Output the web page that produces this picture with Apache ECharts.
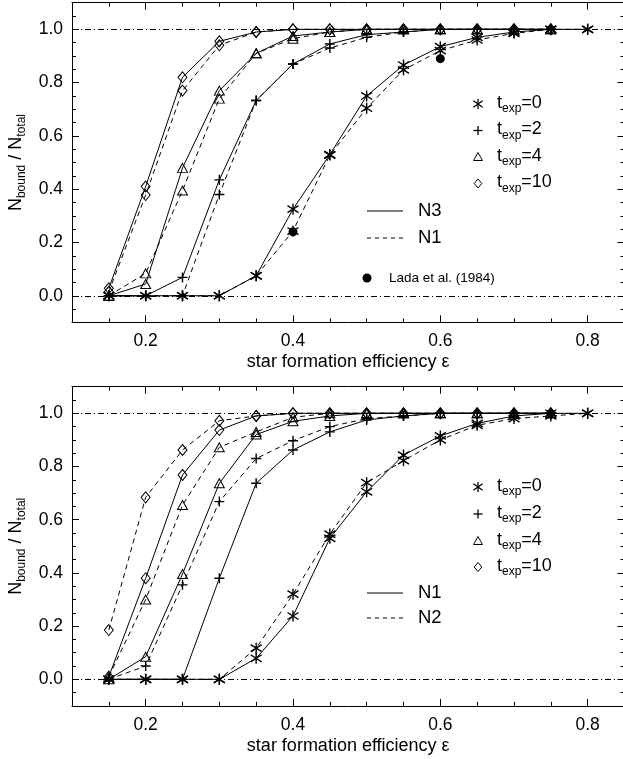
<!DOCTYPE html>
<html>
<head>
<meta charset="utf-8">
<script src="https://cdn.jsdelivr.net/npm/echarts@6/dist/echarts.min.js"></script>
<style>
  html, body { margin: 0; padding: 0; background: #fff; }
  #chart { width: 623px; height: 759px; }
</style>
</head>
<body>
<div id="chart"></div>
<script>
// Star formation efficiency sampled by the simulations
const eps = [0.15, 0.2, 0.25, 0.3, 0.35, 0.4, 0.45, 0.5, 0.55, 0.6, 0.65, 0.7, 0.75, 0.8];
const texpValues = ['0', '2', '4', '10'];

// Upper panel: N3 (solid) and N1 (dashed)
const upperN3_t0  = [0, 0, 0, 0, 0.075, 0.325, 0.53, 0.75, 0.866, 0.935, 0.97, 0.99, 1.0, 1.0];
const upperN3_t2  = [0, 0, 0.069, 0.435, 0.733, 0.87, 0.945, 0.98, 0.99, 1.0, 1.0, 1.0, 1.0];
const upperN3_t4  = [0, 0.044, 0.48, 0.77, 0.91, 0.975, 0.99, 1.0, 1.0, 1.0, 1.0, 1.0, 1.0];
const upperN3_t10 = [0.028, 0.41, 0.82, 0.955, 0.99, 1.0, 1.0, 1.0, 1.0, 1.0, 1.0, 1.0, 1.0];

const upperN1_t0  = [0, 0, 0, 0, 0.075, 0.243, 0.528, 0.704, 0.848, 0.92, 0.96, 0.985, 1.0, 1.0];
const upperN1_t2  = [0, 0, 0, 0.38, 0.733, 0.87, 0.93, 0.97, 0.99, 1.0, 1.0, 1.0, 1.0];
const upperN1_t4  = [0, 0.084, 0.395, 0.74, 0.91, 0.965, 0.99, 1.0, 1.0, 1.0, 1.0, 1.0, 1.0];
const upperN1_t10 = [0.015, 0.378, 0.77, 0.94, 0.99, 1.0, 1.0, 1.0, 1.0, 1.0, 1.0, 1.0, 1.0];

// Observational comparison (Lada et al. 1984)
const ladaEps   = [0.4, 0.6];
const ladaBound = [0.24, 0.89];

// Lower panel: N1 (solid) and N2 (dashed)
const lowerN1_t0  = [0, 0, 0, 0, 0.079, 0.238, 0.53, 0.705, 0.843, 0.915, 0.962, 0.99, 1.0, 1.0];
const lowerN1_t2  = [0, 0, 0, 0.38, 0.737, 0.862, 0.93, 0.975, 0.99, 1.0, 1.0, 1.0, 1.0];
const lowerN1_t4  = [0, 0.085, 0.396, 0.737, 0.92, 0.97, 0.99, 1.0, 1.0, 1.0, 1.0, 1.0, 1.0];
const lowerN1_t10 = [0.01, 0.38, 0.768, 0.937, 0.99, 1.0, 1.0, 1.0, 1.0, 1.0, 1.0, 1.0, 1.0];

const lowerN2_t0  = [0, 0, 0, 0, 0.117, 0.32, 0.546, 0.739, 0.822, 0.9, 0.955, 0.98, 0.99, 1.0];
const lowerN2_t2  = [0, 0.05, 0.355, 0.668, 0.83, 0.897, 0.95, 0.98, 0.99, 1.0, 1.0, 1.0, 1.0];
const lowerN2_t4  = [0.01, 0.30, 0.655, 0.872, 0.93, 0.985, 1.0, 1.0, 1.0, 1.0, 1.0, 1.0, 1.0];
const lowerN2_t10 = [0.185, 0.684, 0.862, 0.972, 0.99, 1.0, 1.0, 1.0, 1.0, 1.0, 1.0, 1.0, 1.0];

// Axis ticks and reference levels
const xMajorTicks = [0.2, 0.4, 0.6, 0.8];
const yMajorTicks = [0, 0.2, 0.4, 0.6, 0.8, 1.0];
const refLevels = [0, 1];

const FONT = '"Liberation Sans", Arial, Helvetica, sans-serif';
const INK = '#000';

const SYMBOLS = {
  star: 'path://M5,0L5,10M0.6,1.8L9.4,8.2M0.6,8.2L9.4,1.8',
  plus: 'path://M5,0L5,10M0,5L10,5',
  tri: 'triangle',
  dia: 'diamond'
};
const SYMBOL_SIZE = { star: 11, plus: 10, tri: [10, 9], dia: [9, 11] };
const symbolOrder = ['star', 'plus', 'tri', 'dia'];

function pairs(values) {
  return values.map((v, i) => [eps[i], v]);
}

function curve(values, symKey, dashed, g) {
  return {
    type: 'line',
    xAxisIndex: 4 * g,
    yAxisIndex: 4 * g,
    data: pairs(values),
    symbol: SYMBOLS[symKey],
    symbolSize: SYMBOL_SIZE[symKey],
    showSymbol: true,
    showAllSymbol: true,
    lineStyle: { color: INK, width: 1, type: dashed ? [5, 4] : 'solid' },
    itemStyle: { color: 'rgba(0,0,0,0)', borderColor: INK, borderWidth: (symKey === 'star' || symKey === 'plus') ? 1.4 : 1 },
    emphasis: { disabled: true },
    silent: true,
    z: dashed ? 2 : 3
  };
}

function refLines(g) {
  return {
    type: 'line',
    xAxisIndex: 4 * g,
    yAxisIndex: 4 * g,
    data: [],
    silent: true,
    markLine: {
      silent: true,
      symbol: 'none',
      label: { show: false },
      lineStyle: { color: INK, width: 1, type: [6, 3, 1, 3] },
      data: refLevels.map(v => ({ yAxis: v }))
    },
    z: 1
  };
}

function xLabel(v) {
  const r = Math.round(v * 20);
  return (r % 4 === 0 && r >= 4 && r <= 16) ? (r / 20).toFixed(1) : '';
}
function yLabel(v) {
  const r = Math.round(v * 20);
  return (r % 4 === 0 && r >= 0 && r <= 20) ? (r / 20).toFixed(1) : '';
}

const tickLine = { color: INK, width: 1 };

function xAxes(g) {
  const base = { type: 'value', gridIndex: g, min: 0.1, max: 0.85, splitLine: { show: false } };
  return [
    Object.assign({}, base, {
      position: 'bottom', interval: 0.05,
      axisLine: { onZero: false, lineStyle: { color: INK, width: 1 } },
      axisTick: { inside: true, length: 4, lineStyle: tickLine },
      axisLabel: { formatter: xLabel, margin: 10, color: INK, fontSize: 17.5, fontFamily: FONT },
      name: 'star formation efficiency ε', nameLocation: 'middle', nameGap: 31,
      nameTextStyle: { color: INK, fontSize: 18, fontFamily: FONT }
    }),
    Object.assign({}, base, {
      position: 'bottom',
      axisLine: { show: false, onZero: false },
      axisTick: { inside: true, length: 7, customValues: xMajorTicks, lineStyle: tickLine },
      axisLabel: { show: false }
    }),
    Object.assign({}, base, {
      position: 'top', interval: 0.05,
      axisLine: { onZero: false, lineStyle: { color: INK, width: 1 } },
      axisTick: { inside: true, length: 4, lineStyle: tickLine },
      axisLabel: { show: false }
    }),
    Object.assign({}, base, {
      position: 'top',
      axisLine: { show: false, onZero: false },
      axisTick: { inside: true, length: 7, customValues: xMajorTicks, lineStyle: tickLine },
      axisLabel: { show: false }
    })
  ];
}

function yAxes(g) {
  const base = { type: 'value', gridIndex: g, min: -0.1, max: 1.1, splitLine: { show: false } };
  return [
    Object.assign({}, base, {
      position: 'left', interval: 0.05,
      axisLine: { onZero: false, lineStyle: { color: INK, width: 1 } },
      axisTick: { inside: true, length: 4, lineStyle: tickLine },
      axisLabel: { formatter: yLabel, margin: 9, color: INK, fontSize: 17.5, fontFamily: FONT },
      name: '{m|N}{s|bound}{m| / N}{s|total}',
      nameLocation: 'middle', nameRotate: 90, nameGap: 38,
      nameTextStyle: {
        color: INK, fontSize: 18, fontFamily: FONT,
        rich: {
          m: { fontSize: 18, lineHeight: 24, fontFamily: FONT, color: INK },
          s: { fontSize: 12, height: 12, verticalAlign: 'bottom', fontFamily: FONT, color: INK }
        }
      }
    }),
    Object.assign({}, base, {
      position: 'left',
      axisLine: { show: false, onZero: false },
      axisTick: { inside: true, length: 7, customValues: yMajorTicks, lineStyle: tickLine },
      axisLabel: { show: false }
    }),
    Object.assign({}, base, {
      position: 'right', interval: 0.05,
      axisLine: { onZero: false, lineStyle: { color: INK, width: 1 } },
      axisTick: { inside: true, length: 4, lineStyle: tickLine },
      axisLabel: { show: false }
    }),
    Object.assign({}, base, {
      position: 'right',
      axisLine: { show: false, onZero: false },
      axisTick: { inside: true, length: 7, customValues: yMajorTicks, lineStyle: tickLine },
      axisLabel: { show: false }
    })
  ];
}

// ---- legend artwork (pixel layout of the key boxes) ----
const subRich = {
  m: { fontSize: 18, lineHeight: 24, fontFamily: FONT, fill: INK, color: INK },
  s: { fontSize: 12, height: 12, verticalAlign: 'bottom', fontFamily: FONT, fill: INK, color: INK }
};

function legendSymbol(kind, cx, cy) {
  const s = { stroke: INK, lineWidth: 1.3, fill: null };
  if (kind === 'star') {
    return { type: 'group', children: [
      { type: 'line', shape: { x1: cx, y1: cy - 5, x2: cx, y2: cy + 5 }, style: s },
      { type: 'line', shape: { x1: cx - 4.6, y1: cy - 3.3, x2: cx + 4.6, y2: cy + 3.3 }, style: s },
      { type: 'line', shape: { x1: cx - 4.6, y1: cy + 3.3, x2: cx + 4.6, y2: cy - 3.3 }, style: s }
    ] };
  }
  if (kind === 'plus') {
    return { type: 'group', children: [
      { type: 'line', shape: { x1: cx, y1: cy - 4.5, x2: cx, y2: cy + 4.5 }, style: s },
      { type: 'line', shape: { x1: cx - 4.5, y1: cy, x2: cx + 4.5, y2: cy }, style: s }
    ] };
  }
  if (kind === 'tri') {
    return { type: 'polygon', shape: { points: [[cx, cy - 4.5], [cx + 4.5, cy + 3.5], [cx - 4.5, cy + 3.5]] },
      style: { stroke: INK, lineWidth: 1, fill: null } };
  }
  return { type: 'polygon', shape: { points: [[cx, cy - 4.5], [cx + 3.8, cy], [cx, cy + 4.5], [cx - 3.8, cy]] },
    style: { stroke: INK, lineWidth: 1, fill: null } };
}

function legendText(x, y, text, rich, size) {
  return { type: 'text', style: {
    x: x, y: y, text: text, rich: rich, fill: INK,
    fontSize: size || 18, fontFamily: FONT, verticalAlign: 'middle', textVerticalAlign: 'middle', align: 'left'
  } };
}

function keyBlock(rowsY, lineRows, names) {
  const els = [];
  symbolOrder.forEach((k, i) => {
    els.push(legendSymbol(k, 478, rowsY[i]));
    els.push(legendText(497, rowsY[i] - 1, '{m|t}{s|exp}{m|=' + texpValues[i] + '}', subRich));
  });
  lineRows.forEach((y, i) => {
    els.push({ type: 'line', shape: { x1: 367, y1: y, x2: 403, y2: y },
      style: { stroke: INK, lineWidth: 1, lineDash: i === 0 ? null : [4, 4] } });
    els.push(legendText(418, y, names[i], null, 18.5));
  });
  return els;
}

const graphics = []
  .concat(keyBlock([104, 130.5, 157, 183.5], [211, 238], ['N3', 'N1']))
  .concat([
    { type: 'circle', shape: { cx: 367, cy: 278, r: 4.5 }, style: { fill: INK } },
    legendText(389, 278, 'Lada et al. (1984)', null, 13.5)
  ])
  .concat(keyBlock([487, 514, 541, 567], [593, 618], ['N1', 'N2']));

const series = [
  refLines(0),
  curve(upperN1_t0, 'star', true, 0),
  curve(upperN1_t2, 'plus', true, 0),
  curve(upperN1_t4, 'tri', true, 0),
  curve(upperN1_t10, 'dia', true, 0),
  curve(upperN3_t0, 'star', false, 0),
  curve(upperN3_t2, 'plus', false, 0),
  curve(upperN3_t4, 'tri', false, 0),
  curve(upperN3_t10, 'dia', false, 0),
  {
    type: 'scatter', xAxisIndex: 0, yAxisIndex: 0,
    data: ladaEps.map((e, i) => [e, ladaBound[i]]),
    symbol: 'circle', symbolSize: 9,
    itemStyle: { color: INK, opacity: 1 }, silent: true, z: 4
  },
  refLines(1),
  curve(lowerN2_t0, 'star', true, 1),
  curve(lowerN2_t2, 'plus', true, 1),
  curve(lowerN2_t4, 'tri', true, 1),
  curve(lowerN2_t10, 'dia', true, 1),
  curve(lowerN1_t0, 'star', false, 1),
  curve(lowerN1_t2, 'plus', false, 1),
  curve(lowerN1_t4, 'tri', false, 1),
  curve(lowerN1_t10, 'dia', false, 1)
];

const chart = echarts.init(document.getElementById('chart'), null, { renderer: 'canvas' });
chart.setOption({
  animation: false,
  backgroundColor: '#fff',
  textStyle: { fontFamily: FONT, color: INK },
  grid: [
    { left: 72, top: 2.7, width: 552.5, height: 319.7, outerBoundsMode: 'none', containLabel: false },
    { left: 72, top: 386.7, width: 552.5, height: 319.2, outerBoundsMode: 'none', containLabel: false }
  ],
  xAxis: xAxes(0).concat(xAxes(1)),
  yAxis: yAxes(0).concat(yAxes(1)),
  series: series,
  graphic: graphics
});
</script>
</body>
</html>
